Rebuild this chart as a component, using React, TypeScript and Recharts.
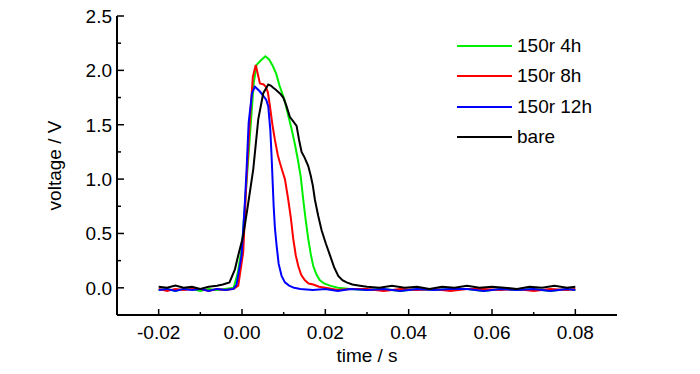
import { CartesianGrid, Line, LineChart, XAxis, YAxis } from 'recharts'

// time (s) and voltage (V), one pair of arrays per run
const greenTime = [-0.02, -0.018, -0.016, -0.014, -0.012, -0.01, -0.008, -0.006, -0.004, -0.002, -0.001, 0, 0.001, 0.002, 0.0028, 0.0035, 0.0045, 0.0056, 0.0065, 0.0074, 0.0082, 0.009, 0.0102, 0.011, 0.0119, 0.0127, 0.0134, 0.0141, 0.0147, 0.0153, 0.0159, 0.0165, 0.0171, 0.0179, 0.0187, 0.0197, 0.0211, 0.023, 0.026, 0.03, 0.034, 0.038, 0.042, 0.046, 0.05, 0.054, 0.058, 0.062, 0.066, 0.07, 0.074, 0.078, 0.08]
const greenVolt = [-0.02, -0.01, -0.03, -0.01, -0.01, -0.03, -0.01, -0.02, -0.01, 0.0, 0.14, 0.38, 0.92, 1.45, 1.88, 2.05, 2.09, 2.13, 2.1, 2.04, 1.97, 1.86, 1.73, 1.6, 1.46, 1.32, 1.18, 1.02, 0.81, 0.62, 0.45, 0.31, 0.2, 0.12, 0.07, 0.04, 0.02, 0.0, -0.01, -0.02, -0.01, -0.03, -0.01, -0.02, -0.01, -0.01, -0.03, -0.01, -0.02, -0.01, -0.03, -0.01, -0.02]

const redTime = [-0.02, -0.018, -0.016, -0.014, -0.012, -0.01, -0.008, -0.006, -0.004, -0.002, -0.0009, 0.0003, 0.001, 0.0018, 0.0026, 0.0033, 0.0043, 0.0052, 0.0057, 0.0062, 0.0067, 0.0073, 0.0079, 0.0086, 0.0091, 0.0098, 0.0103, 0.0111, 0.0117, 0.0123, 0.0129, 0.0135, 0.0142, 0.0151, 0.016, 0.0171, 0.0185, 0.02, 0.023, 0.026, 0.03, 0.034, 0.038, 0.042, 0.046, 0.05, 0.054, 0.058, 0.062, 0.066, 0.07, 0.074, 0.078, 0.08]
const redVolt = [-0.01, -0.03, -0.01, -0.02, -0.01, -0.01, -0.03, -0.01, -0.02, -0.01, 0.02, 0.33, 0.94, 1.49, 1.94, 2.05, 1.88, 1.87, 1.85, 1.8, 1.67, 1.5, 1.36, 1.22, 1.15, 1.06, 1.0, 0.81, 0.65, 0.45, 0.3, 0.2, 0.12, 0.07, 0.04, 0.03, 0.01, 0.0, -0.02, -0.01, -0.01, -0.03, -0.01, -0.02, -0.01, -0.03, -0.01, -0.01, -0.02, -0.01, -0.03, -0.01, -0.02, -0.01]

const blueTime = [-0.02, -0.018, -0.016, -0.014, -0.012, -0.01, -0.008, -0.006, -0.004, -0.002, -0.0013, -0.0001, 0.0007, 0.0011, 0.0016, 0.0024, 0.0031, 0.0042, 0.0052, 0.0058, 0.0063, 0.0068, 0.0071, 0.0076, 0.0079, 0.0083, 0.0088, 0.0095, 0.0103, 0.0113, 0.0125, 0.014, 0.017, 0.02, 0.023, 0.026, 0.03, 0.034, 0.038, 0.042, 0.046, 0.05, 0.054, 0.058, 0.062, 0.066, 0.07, 0.074, 0.078, 0.08]
const blueVolt = [-0.02, -0.01, -0.03, -0.01, -0.02, -0.01, -0.03, -0.01, -0.02, -0.01, 0.03, 0.3, 0.79, 1.09, 1.52, 1.79, 1.85, 1.81, 1.76, 1.73, 1.67, 1.45, 1.21, 0.75, 0.55, 0.39, 0.22, 0.11, 0.05, 0.02, 0.0, -0.01, -0.02, -0.01, -0.03, -0.01, -0.02, -0.01, -0.03, -0.01, -0.02, -0.01, -0.01, -0.03, -0.01, -0.02, -0.01, -0.03, -0.01, -0.02]

const bareTime = [-0.02, -0.018, -0.016, -0.014, -0.012, -0.01, -0.008, -0.006, -0.0046, -0.003, -0.0017, -0.0009, 0.0003, 0.0015, 0.0027, 0.0039, 0.0051, 0.0063, 0.0069, 0.0075, 0.0082, 0.0087, 0.0093, 0.0099, 0.0106, 0.0115, 0.0123, 0.0131, 0.0137, 0.0143, 0.015, 0.0159, 0.0165, 0.017, 0.0175, 0.0183, 0.0191, 0.0201, 0.0211, 0.0221, 0.0231, 0.0241, 0.0251, 0.0265, 0.0283, 0.03, 0.033, 0.036, 0.039, 0.042, 0.045, 0.048, 0.051, 0.054, 0.057, 0.06, 0.063, 0.066, 0.069, 0.072, 0.075, 0.078, 0.08]
const bareVolt = [0.01, 0.0, 0.02, 0.0, 0.01, -0.01, 0.01, 0.02, 0.03, 0.05, 0.17, 0.3, 0.48, 0.78, 1.09, 1.55, 1.79, 1.87, 1.86, 1.84, 1.82, 1.8, 1.78, 1.75, 1.68, 1.57, 1.53, 1.49, 1.36, 1.25, 1.2, 1.12, 1.03, 0.94, 0.81, 0.66, 0.53, 0.41, 0.3, 0.19, 0.11, 0.07, 0.05, 0.03, 0.02, 0.01, 0.0, 0.02, 0.0, 0.01, -0.01, 0.01, 0.0, 0.02, 0.0, 0.01, 0.0, -0.01, 0.01, 0.0, 0.02, 0.0, 0.01]

const xTicks = [-0.02, -0.01, 0, 0.01, 0.02, 0.03, 0.04, 0.05, 0.06, 0.07, 0.08]
const yTicks = [0, 0.25, 0.5, 0.75, 1, 1.25, 1.5, 1.75, 2, 2.25, 2.5]

const FONT = '"Liberation Sans", Arial, sans-serif'
const FS = 19

const zip = (ts: number[], vs: number[]) =>
  ts.slice(0, Math.min(ts.length, vs.length)).map((t, i) => ({ t, v: vs[i] }))

const series = [
  { name: '150r 4h', color: '#00ee00', data: zip(greenTime, greenVolt) },
  { name: '150r 8h', color: '#ff0000', data: zip(redTime, redVolt) },
  { name: '150r 12h', color: '#0000ff', data: zip(blueTime, blueVolt) },
  { name: 'bare', color: '#000000', data: zip(bareTime, bareVolt) },
]

function XTick(props: any) {
  const { x, y, payload } = props
  const major = Math.round(payload.value * 100) % 2 === 0
  return (
    <g>
      <line x1={x} x2={x} y1={y} y2={y - (major ? 6 : 3)} stroke="#000" strokeWidth={1.5} />
      {major && (
        <text x={x} y={y + 24} textAnchor="middle" fontSize={FS} fontFamily={FONT} fill="#000">
          {payload.value.toFixed(2)}
        </text>
      )}
    </g>
  )
}

function YTick(props: any) {
  const { x, y, payload } = props
  const major = Math.round(payload.value * 100) % 50 === 0
  return (
    <g>
      <line x1={x} x2={x + (major ? 7 : 4)} y1={y} y2={y} stroke="#000" strokeWidth={1.5} />
      {major && (
        <text x={x - 5} y={y} dy="0.36em" textAnchor="end" fontSize={FS} fontFamily={FONT} fill="#000">
          {payload.value.toFixed(1)}
        </text>
      )}
    </g>
  )
}

export default function App() {
  return (
    <div style={{ position: 'absolute', left: 0, top: 0, width: 700, height: 374, background: '#fff' }}>
      <LineChart width={700} height={374} margin={{ top: 16, right: 83, bottom: 19, left: 57 }}>
        <CartesianGrid stroke="none" />
        <XAxis
          dataKey="t"
          type="number"
          domain={[-0.03, 0.09]}
          ticks={xTicks}
          interval={0}
          allowDataOverflow
          height={40}
          tickSize={0}
          tickMargin={0}
          tickLine={false}
          tick={<XTick />}
          axisLine={{ stroke: '#000', strokeWidth: 2 }}
          label={{
            content: (p: any) => (
              <text
                x={p.viewBox.x + p.viewBox.width / 2}
                y={p.viewBox.y + 47}
                textAnchor="middle"
                fontSize={FS}
                fontFamily={FONT}
                fill="#000"
              >
                time / s
              </text>
            ),
          }}
        />
        <XAxis
          xAxisId="top"
          orientation="top"
          type="number"
          domain={[-0.03, 0.09]}
          height={0}
          tick={false}
          tickLine={false}
          axisLine={{ stroke: '#000', strokeWidth: 2 }}
        />
        <YAxis
          type="number"
          domain={[-0.25, 2.5]}
          ticks={yTicks}
          interval={0}
          allowDataOverflow
          width={60}
          tickSize={0}
          tickMargin={0}
          tickLine={false}
          tick={<YTick />}
          axisLine={{ stroke: '#000', strokeWidth: 2 }}
          label={{
            content: (p: any) => {
              const cx = 54
              const cy = p.viewBox.y + p.viewBox.height / 2
              return (
                <text
                  x={cx}
                  y={cy}
                  dy="0.36em"
                  transform={`rotate(-90 ${cx} ${cy})`}
                  textAnchor="middle"
                  fontSize={FS}
                  fontFamily={FONT}
                  fill="#000"
                >
                  voltage / V
                </text>
              )
            },
          }}
        />
        <YAxis
          yAxisId="right"
          orientation="right"
          type="number"
          domain={[-0.25, 2.5]}
          width={0}
          tick={false}
          tickLine={false}
          axisLine={{ stroke: '#000', strokeWidth: 2 }}
        />
        {series.map((s) => (
          <Line
            key={s.name}
            data={s.data}
            dataKey="v"
            name={s.name}
            type="linear"
            stroke={s.color}
            strokeWidth={2}
            dot={false}
            isAnimationActive={false}
          />
        ))}
      </LineChart>

      <div style={{ position: 'absolute', left: 457, top: 31, fontFamily: FONT, fontSize: FS, color: '#000' }}>
        {series.map((s) => (
          <div key={s.name} style={{ display: 'flex', alignItems: 'center', height: 30.3 }}>
            <span style={{ display: 'inline-block', width: 55, height: 2, background: s.color, marginRight: 5 }} />
            <span>{s.name}</span>
          </div>
        ))}
      </div>
    </div>
  )
}
